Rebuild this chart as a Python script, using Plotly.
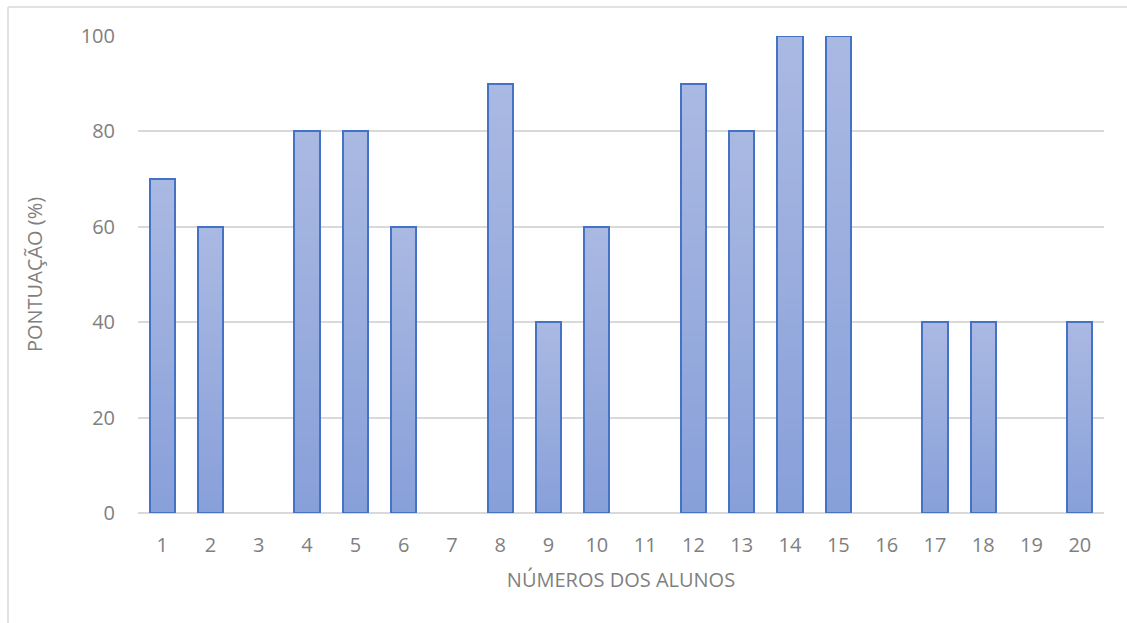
import plotly.graph_objects as go

# Student numbers and their scores (%)
alunos = [str(i) for i in range(1, 21)]
pontuacao = [70, 60, 0, 80, 80, 60, 0, 90, 40, 60, 0, 90, 80, 100, 100, 0, 40, 40, 0, 40]
y_ticks = [0, 20, 40, 60, 80, 100]

# Vertical gradient fill, built from stacked thin slices of each bar
N_SLICES = 40
top_rgb = (170, 185, 226)
bottom_rgb = (136, 160, 217)
BAR_WIDTH = 0.52
FONT_SIZE = 20
GREY = "#7f7f7f"

fig = go.Figure()
for k in range(N_SLICES):
    t = k / (N_SLICES - 1)
    rgb = tuple(round(b + (a - b) * t) for a, b in zip(top_rgb, bottom_rgb))
    fig.add_trace(go.Bar(
        x=alunos,
        y=[v / N_SLICES * 1.02 if v else None for v in pontuacao],
        base=[v * k / N_SLICES for v in pontuacao],
        width=BAR_WIDTH,
        marker=dict(color="rgb(%d,%d,%d)" % rgb, line=dict(width=0)),
        hoverinfo="skip",
        showlegend=False,
    ))

# Outline of each bar (empty scores draw nothing)
fig.add_trace(go.Bar(
    x=alunos,
    y=[v if v else None for v in pontuacao],
    width=BAR_WIDTH,
    marker=dict(color="rgba(0,0,0,0)", line=dict(color="#4472C4", width=2)),
    cliponaxis=False,
    showlegend=False,
))

L, R, T, B = 138, 23, 36, 110
W, H = 1127, 623
pw, ph = W - L - R, H - T - B
bx = (8 - L) / pw
by = 1 + (T - 7) / ph

fig.update_layout(
    width=W, height=H,
    barmode="overlay",
    bargap=0,
    paper_bgcolor="white",
    plot_bgcolor="white",
    margin=dict(l=L, r=R, t=T, b=B),
    font=dict(family="Open Sans", color=GREY, size=FONT_SIZE),
    xaxis=dict(
        type="category",
        showgrid=False,
        showline=False,
        ticks="",
        ticklabelstandoff=18,
        tickfont=dict(size=FONT_SIZE, color=GREY),
        title=dict(text="NÚMEROS DOS ALUNOS", font=dict(size=FONT_SIZE, color=GREY), standoff=15),
        fixedrange=True,
    ),
    yaxis=dict(
        range=[0, 100],
        tickvals=y_ticks,
        showgrid=True,
        gridcolor="#d9d9d9",
        gridwidth=1.5,
        zeroline=True,
        zerolinecolor="#d9d9d9",
        zerolinewidth=1.5,
        showline=False,
        ticks="",
        ticklabelstandoff=22,
        tickfont=dict(size=FONT_SIZE, color=GREY),
        title=dict(text="PONTUAÇÃO (%)", font=dict(size=FONT_SIZE, color=GREY), standoff=32),
        fixedrange=True,
    ),
    shapes=[
        dict(type="line", xref="paper", yref="paper", x0=bx, x1=bx, y0=by, y1=-0.5,
             line=dict(color="#d9d9d9", width=1.5)),
        dict(type="line", xref="paper", yref="paper", x0=bx, x1=1.2, y0=by, y1=by,
             line=dict(color="#d9d9d9", width=1.5)),
    ],
)

fig.write_html("out.html")
